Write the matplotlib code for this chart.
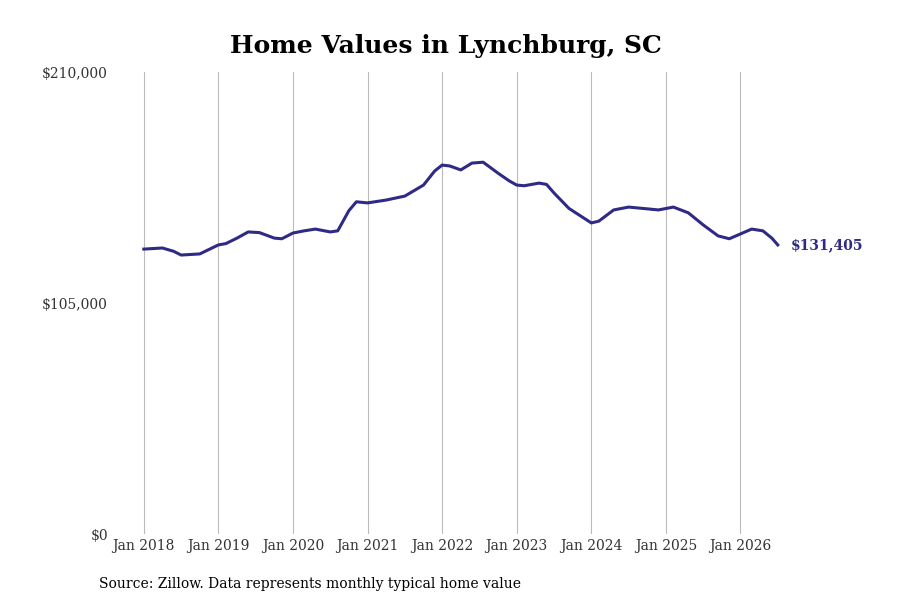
import matplotlib
matplotlib.use("Agg")
import matplotlib.pyplot as plt
from matplotlib.ticker import FuncFormatter

plt.rcParams['font.family'] = ['DejaVu Serif']

# fractional years and home values
years = [2018.0, 2018.1, 2018.25, 2018.4, 2018.5, 2018.75, 2019.0, 2019.1, 2019.25, 2019.4,
         2019.55, 2019.75, 2019.85, 2020.0, 2020.15, 2020.3, 2020.5, 2020.6, 2020.75, 2020.85,
         2021.0, 2021.25, 2021.5, 2021.75, 2021.9, 2022.0, 2022.1, 2022.25, 2022.4, 2022.55,
         2022.75, 2022.9, 2023.0, 2023.1, 2023.3, 2023.4, 2023.5, 2023.7, 2023.9, 2024.0,
         2024.1, 2024.3, 2024.5, 2024.75, 2024.9, 2025.1, 2025.3, 2025.5, 2025.7, 2025.85,
         2026.0, 2026.15, 2026.3, 2026.42, 2026.5]
values = [129500, 129700, 130000, 128500, 126800, 127300, 131400, 132000, 134500, 137300,
          137000, 134500, 134200, 136800, 137800, 138600, 137300, 137800, 147000, 151000,
          150500, 151800, 153600, 158600, 165000, 167700, 167300, 165500, 168600, 169000,
          164000, 160500, 158600, 158300, 159500, 158900, 155000, 148000, 143600, 141400,
          142200, 147300, 148600, 147800, 147300, 148600, 146000, 140500, 135500, 134200,
          136400, 138600, 137800, 134500, 131405]

fig, ax = plt.subplots(figsize=(9, 6), dpi=100)
fig.subplots_adjust(left=0.12, right=0.87, top=0.88, bottom=0.11)
ax.plot(years, values, color='#2e2a85', lw=2.2)
ax.text(years[-1] + 0.18, values[-1], '$131,405', color='#2e2a85', fontsize=10,
        fontweight='bold', va='center', ha='left')

ax.set_ylim(0, 210000)
ax.set_yticks([0, 105000, 210000])
ax.yaxis.set_major_formatter(FuncFormatter(lambda v, p: f'${v:,.0f}'))
ax.set_xlim(2017.52, 2026.57)
ax.set_xticks(range(2018, 2027))
ax.set_xticklabels([f'Jan {y}' for y in range(2018, 2027)])
ax.grid(axis='x', color='#bbbbbb', lw=0.8)
ax.tick_params(length=0, labelsize=10, colors='#333333')
ax.tick_params(axis='y', pad=0)
for s in ax.spines.values():
    s.set_visible(False)

ax.set_title('Home Values in Lynchburg, SC', fontsize=18, fontweight='bold', pad=14)
fig.text(0.11, 0.02, 'Source: Zillow. Data represents monthly typical home value', fontsize=10)
fig.savefig('out.png')
